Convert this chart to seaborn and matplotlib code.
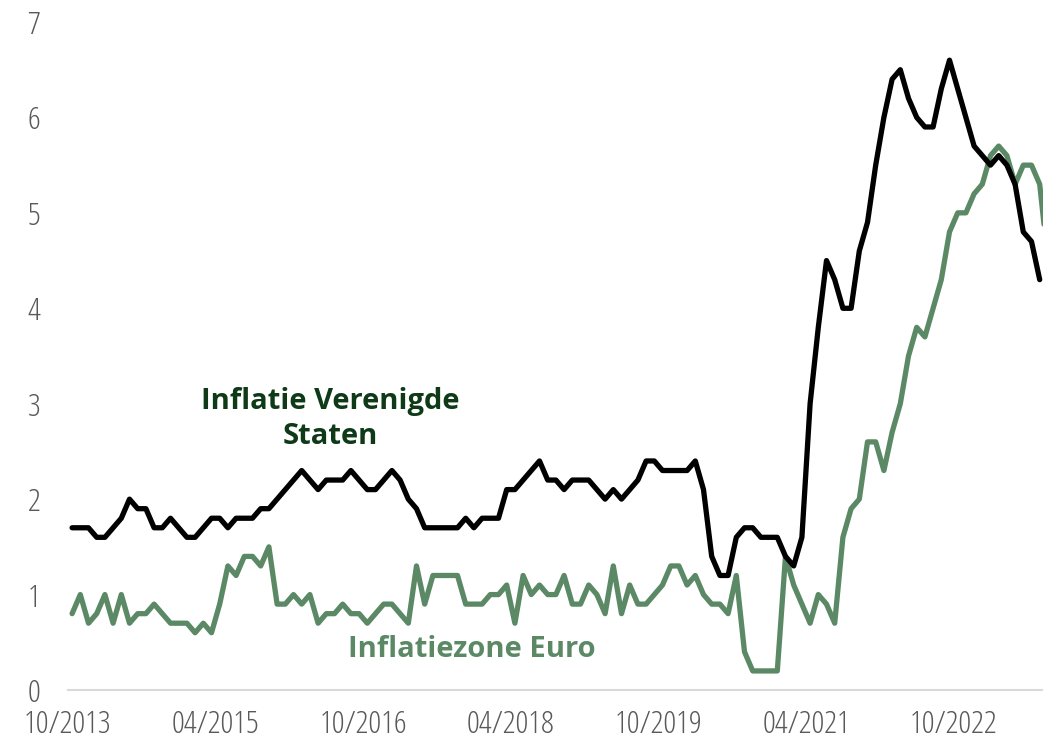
import pandas as pd
import matplotlib
matplotlib.use('Agg')
import matplotlib.pyplot as plt
from matplotlib.font_manager import FontProperties
import seaborn as sns

# Monthly core inflation, 10/2013 onwards
us_inflation = [
    1.7, 1.7, 1.7, 1.6, 1.6, 1.7, 1.8, 2.0, 1.9, 1.9, 1.7, 1.7,
    1.8, 1.7, 1.6, 1.6, 1.7, 1.8, 1.8, 1.7, 1.8, 1.8, 1.8, 1.9,
    1.9, 2.0, 2.1, 2.2, 2.3, 2.2, 2.1, 2.2, 2.2, 2.2, 2.3, 2.2,
    2.1, 2.1, 2.2, 2.3, 2.2, 2.0, 1.9, 1.7, 1.7, 1.7, 1.7, 1.7,
    1.8, 1.7, 1.8, 1.8, 1.8, 2.1, 2.1, 2.2, 2.3, 2.4, 2.2, 2.2,
    2.1, 2.2, 2.2, 2.2, 2.1, 2.0, 2.1, 2.0, 2.1, 2.2, 2.4, 2.4,
    2.3, 2.3, 2.3, 2.3, 2.4, 2.1, 1.4, 1.2, 1.2, 1.6, 1.7, 1.7,
    1.6, 1.6, 1.6, 1.4, 1.3, 1.6, 3.0, 3.8, 4.5, 4.3, 4.0, 4.0,
    4.6, 4.9, 5.5, 6.0, 6.4, 6.5, 6.2, 6.0, 5.9, 5.9, 6.3, 6.6,
    6.3, 6.0, 5.7, 5.6, 5.5, 5.6, 5.5, 5.3, 4.8, 4.7, 4.3,
]
euro_inflation = [
    0.8, 1.0, 0.7, 0.8, 1.0, 0.7, 1.0, 0.7, 0.8, 0.8, 0.9, 0.8,
    0.7, 0.7, 0.7, 0.6, 0.7, 0.6, 0.9, 1.3, 1.2, 1.4, 1.4, 1.3,
    1.5, 0.9, 0.9, 1.0, 0.9, 1.0, 0.7, 0.8, 0.8, 0.9, 0.8, 0.8,
    0.7, 0.8, 0.9, 0.9, 0.8, 0.7, 1.3, 0.9, 1.2, 1.2, 1.2, 1.2,
    0.9, 0.9, 0.9, 1.0, 1.0, 1.1, 0.7, 1.2, 1.0, 1.1, 1.0, 1.0,
    1.2, 0.9, 0.9, 1.1, 1.0, 0.8, 1.3, 0.8, 1.1, 0.9, 0.9, 1.0,
    1.1, 1.3, 1.3, 1.1, 1.2, 1.0, 0.9, 0.9, 0.8, 1.2, 0.4, 0.2,
    0.2, 0.2, 0.2, 1.4, 1.1, 0.9, 0.7, 1.0, 0.9, 0.7, 1.6, 1.9,
    2.0, 2.6, 2.6, 2.3, 2.7, 3.0, 3.5, 3.8, 3.7, 4.0, 4.3, 4.8,
    5.0, 5.0, 5.2, 5.3, 5.6, 5.7, 5.6, 5.3, 5.5, 5.5, 5.3, 4.5,
]
tick_labels = ['10/2013', '04/2015', '10/2016', '04/2018', '10/2019', '04/2021', '10/2022']
us_label = 'Inflatie Verenigde\nStaten'
euro_label = 'Inflatiezone Euro'

# month index as a category axis (one unit per month), like the original
us = pd.DataFrame({'month': range(len(us_inflation)), 'value': us_inflation, 'series': 'us'})
euro = pd.DataFrame({'month': range(len(euro_inflation)), 'value': euro_inflation, 'series': 'euro'})
df = pd.concat([us, euro], ignore_index=True)

sns.set_style('white')
plt.rcParams['font.family'] = ['Open Sans', 'DejaVu Sans']
tick_font = FontProperties(family='Open Sans', stretch='condensed', weight=300, size=23)

green = '#5b8966'
fig = plt.figure(figsize=(10.43, 7.47), dpi=100)
ax = fig.add_axes([68 / 1043, 57 / 747, 975 / 1043, 668 / 747])

sns.lineplot(data=df, x='month', y='value', hue='series', hue_order=['euro', 'us'],
             palette={'us': 'black', 'euro': green}, linewidth=3.8, legend=False, ax=ax)

# ticks sit on the boundaries between months, every 18 months
ax.set_xlim(-0.5, -0.5 + 975 / 8.2)
ax.set_ylim(0, 7)
ax.set_yticks(range(0, 8))
ax.set_xticks([-0.5 + 18 * i for i in range(len(tick_labels))])
ax.set_xticklabels(tick_labels)
ax.set_xlabel('')
ax.set_ylabel('')

for side in ['top', 'right', 'left']:
    ax.spines[side].set_visible(False)
ax.spines['bottom'].set_color('#d9d9d9')
ax.spines['bottom'].set_linewidth(1.5)
ax.tick_params(axis='x', length=10, width=1.5, color='#d9d9d9', labelcolor='#595959', pad=4)
ax.tick_params(axis='y', length=0, labelcolor='#595959', pad=20)
for lab in ax.get_xticklabels() + ax.get_yticklabels():
    lab.set_fontproperties(tick_font)

ax.text(31.5, 2.84, us_label, ha='center', va='center', fontsize=21, fontweight='bold',
        color='#0e3a17', linespacing=1.25)
ax.text(48.8, 0.42, euro_label, ha='center', va='center', fontsize=21, fontweight='bold',
        color=green)

fig.savefig('out.png', dpi=100)
